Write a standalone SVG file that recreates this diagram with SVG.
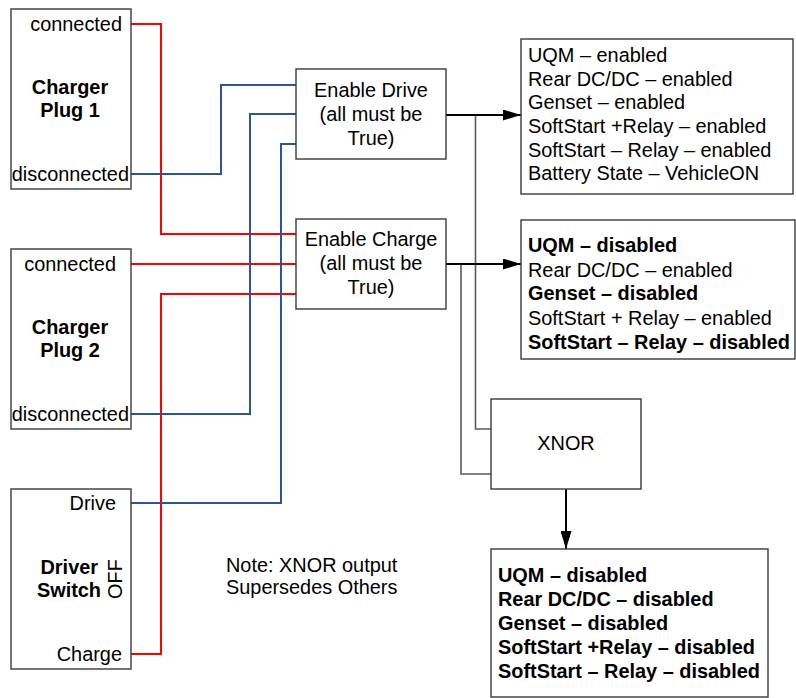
<svg xmlns="http://www.w3.org/2000/svg" width="796" height="698" viewBox="0 0 796 698">
<style>
text{font-family:"Liberation Sans",Arial,sans-serif;font-size:19.9px;fill:#000}
.b{font-weight:bold}
.m{text-anchor:middle}
.e{text-anchor:end}
.box{fill:#fff;stroke:#3a3a3a;stroke-width:1.4}
.red{fill:none;stroke:#ff0000;stroke-width:2}
.blue{fill:none;stroke:#2e5592;stroke-width:2}
.grey{fill:none;stroke:#5a5a5a;stroke-width:1.6}
.arr{fill:none;stroke:#000;stroke-width:2}
</style>
<defs>
<marker id="ah" markerUnits="userSpaceOnUse" markerWidth="18" markerHeight="11" refX="18" refY="5.5" orient="auto">
<path d="M0,0 L18,5.5 L0,11 z" fill="#000"/>
</marker>
</defs>
<g id="connectors">
<polyline class="red" points="131,24 161,24 161,234 296,234"/>
<polyline class="red" points="131,264 296,264"/>
<polyline class="red" points="131,654 161,654 161,294 296,294"/>
<polyline class="blue" points="131,174 221,174 221,85 296,85"/>
<polyline class="blue" points="131,414 250,414 250,114 296,114"/>
<polyline class="blue" points="131,503 281,503 281,144 296,144"/>
<polyline class="grey" points="475.5,115 475.5,429 491,429"/>
<polyline class="grey" points="461,264 461,474 491,474"/>
<line class="arr" x1="446" y1="115" x2="521" y2="115" marker-end="url(#ah)"/>
<line class="arr" x1="446" y1="264" x2="521" y2="264" marker-end="url(#ah)"/>
<line class="arr" x1="566" y1="489" x2="566" y2="549" marker-end="url(#ah)"/>
</g>
<g id="plug1">
<rect class="box" x="11" y="9" width="120" height="180"/>
<text class="e" x="122" y="31">connected</text>
<text class="b m" x="70" y="94">Charger</text>
<text class="b m" x="70" y="117">Plug 1</text>
<text class="e" x="129" y="181">disconnected</text>
</g>
<g id="plug2">
<rect class="box" x="11" y="249" width="120" height="180"/>
<text class="e" x="116" y="271">connected</text>
<text class="b m" x="70" y="334">Charger</text>
<text class="b m" x="70" y="357">Plug 2</text>
<text class="e" x="129" y="421">disconnected</text>
</g>
<g id="driverswitch">
<rect class="box" x="11" y="489" width="120" height="180"/>
<text class="e" x="116" y="510">Drive</text>
<text class="b e" x="98" y="574">Driver</text>
<text class="b e" x="101" y="597">Switch</text>
<text class="m" transform="translate(121.5,579) rotate(-90)">OFF</text>
<text class="e" x="122" y="661">Charge</text>
</g>
<g id="enabledrive">
<rect class="box" x="296" y="69" width="150" height="90"/>
<text class="m" x="371" y="97">Enable Drive</text>
<text class="m" x="371" y="121">(all must be</text>
<text class="m" x="371" y="145">True)</text>
</g>
<g id="enablecharge">
<rect class="box" x="296" y="219" width="150" height="90"/>
<text class="m" x="371" y="246">Enable Charge</text>
<text class="m" x="371" y="270">(all must be</text>
<text class="m" x="371" y="294">True)</text>
</g>
<g id="drivestate">
<rect class="box" x="521" y="39" width="272" height="155"/>
<text x="528" y="62">UQM – enabled</text>
<text x="528" y="86">Rear DC/DC – enabled</text>
<text x="528" y="109">Genset – enabled</text>
<text x="528" y="133">SoftStart +Relay – enabled</text>
<text x="528" y="157">SoftStart – Relay – enabled</text>
<text x="528" y="180">Battery State – VehicleON</text>
</g>
<g id="chargestate">
<rect class="box" x="521" y="220" width="274" height="139"/>
<text class="b" x="528" y="252">UQM – disabled</text>
<text x="528" y="277">Rear DC/DC – enabled</text>
<text class="b" x="528" y="300">Genset – disabled</text>
<text x="528" y="325">SoftStart + Relay – enabled</text>
<text class="b" x="528" y="349">SoftStart – Relay – disabled</text>
</g>
<g id="xnor">
<rect class="box" x="491" y="399" width="150" height="90"/>
<text class="m" x="566" y="450">XNOR</text>
</g>
<g id="xnorstate">
<rect class="box" x="491" y="549" width="277" height="148"/>
<text class="b" x="498" y="582">UQM – disabled</text>
<text class="b" x="498" y="606">Rear DC/DC – disabled</text>
<text class="b" x="498" y="630">Genset – disabled</text>
<text class="b" x="498" y="654">SoftStart +Relay – disabled</text>
<text class="b" x="498" y="678">SoftStart – Relay – disabled</text>
</g>
<g id="note">
<text x="226" y="572">Note: XNOR output</text>
<text x="226" y="594">Supersedes Others</text>
</g>
</svg>
